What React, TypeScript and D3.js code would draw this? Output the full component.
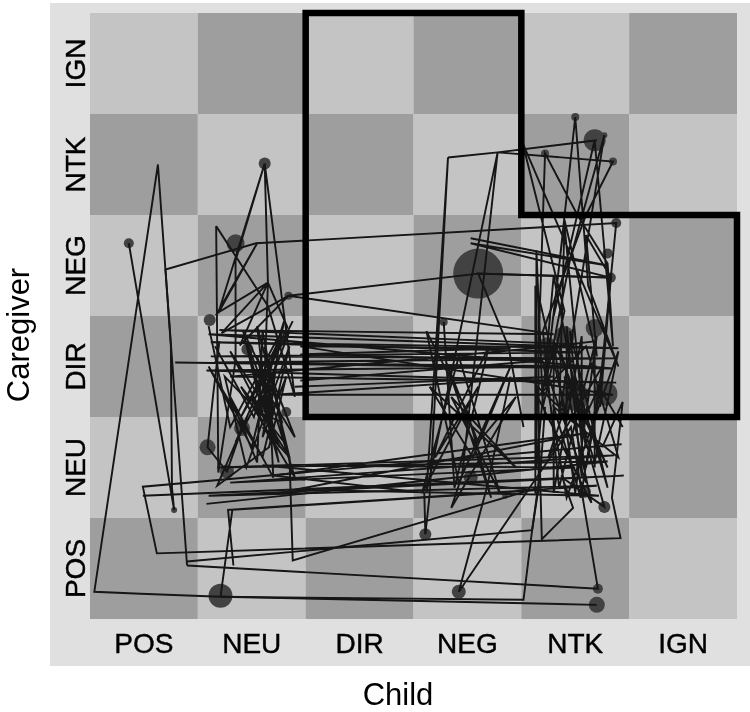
import { useRef, useEffect } from 'react';
import * as d3 from 'd3';

type Pt = [number, number];

const childStates = ['POS', 'NEU', 'DIR', 'NEG', 'NTK', 'IGN'];
const caregiverStates = ['POS', 'NEU', 'DIR', 'NEG', 'NTK', 'IGN'];

// grid units: [child, caregiver], 0-6 across the six states
const regionOutline: Pt[] = [[2, 6], [4, 6], [4, 4], [6, 4], [6, 2], [2, 2]];

const outerLeft: Pt[] = [
  [0.36, 3.72], [0.78, 1.08], [0.76, 1.3], [0.75, 2.7], [0.63, 4.5], [0.04, 0.27], [0.47, 0.25], [1.21, 0.22], [4.7, 0.14],
];
const outerBottom: Pt[] = [
  [1.21, 0.22], [4.02, 0.19], [4.1, 0.88], [4.18, 1.5], [4.22, 2.1],
];
const outerTop: Pt[] = [
  [0.9, 0.53], [0.7, 3.46], [1.54, 3.72], [4.88, 3.92], [4.72, 2.2], [4.6, 1.5],
];
const outerLow: Pt[] = [
  [0.9, 0.53], [4.71, 0.3], [4.46, 1.9], [3.42, 0.27], [3.68, 1.3], [3.9, 2.4],
];
const loopLow: Pt[] = [
  [4.93, 1.73], [0.49, 1.31], [0.62, 0.65], [4.92, 0.8], [4.84, 1.2], [4.94, 2.15], [4.75, 1.7],
];
const loopPos: Pt[] = [
  [0.9, 0.57], [4.1, 0.88], [4.16, 1.3], [1.88, 0.58], [1.85, 1.6], [1.6, 1.9],
];
const crossNeu: Pt[] = [
  [0.49, 1.22], [4.95, 1.42], [1.1, 1.22], [4.7, 1.32], [1.28, 1.08], [1.33, 0.53], [1.28, 1.08], [4.2, 1.28], [1.32, 1.08], [1.21, 0.22],
];
const crossNeu2: Pt[] = [
  [1.08, 1.14], [4.8, 1.56], [1.18, 1.5], [4.86, 1.62], [1.3, 1.35], [4.5, 1.5], [1.6, 1.52], [4.72, 1.22], [1.9, 1.28],
  [4.6, 1.84], [1.7, 1.42], [3.1, 1.25], [3.11, 0.84],
];
const crossDir: Pt[] = [
  [0.79, 2.54], [4.85, 2.48], [1.1, 2.82], [4.9, 2.68], [1.12, 2.74], [4.55, 2.64], [1.12, 2.6], [4.86, 2.58], [1.15, 2.54],
  [4.7, 2.5], [1.08, 2.46], [4.88, 2.34], [1.3, 2.4], [4.5, 2.72], [1.2, 2.86], [4.3, 2.82], [1.84, 3.2], [3.6, 3.42], [4.83, 3.38],
];
const crossDir2: Pt[] = [
  [1.9, 2.3], [4.3, 2.4], [1.7, 2.22], [4.85, 2.22], [1.95, 2.7], [3.9, 2.68], [1.95, 2.62], [4.2, 2.56], [1.95, 2.36],
];
const leftTop: Pt[] = [
  [1.17, 3.89], [1.19, 1.45], [1.35, 2.56], [1.35, 3.55], [1.62, 4.51], [1.19, 3.03], [1.55, 3.72], [1.18, 3.03], [1.65, 3.33],
  [1.22, 2.83], [1.84, 3.2], [1.39, 2.71], [1.65, 3.33], [1.83, 2.89], [1.62, 2.4], [1.65, 3.33], [1.62, 4.51], [1.79, 3.09],
  [1.9, 2.2], [1.65, 3.1], [1.17, 3.89],
];
const leftDense: Pt[] = [
  [1.1, 2.9], [1.3, 1.9], [1.75, 2.8], [1.5, 1.7], [1.1, 2.5], [1.6, 1.6], [1.85, 2.7], [1.45, 1.5], [1.25, 2.4], [1.7, 1.9],
  [1.55, 2.6], [1.9, 1.4], [1.4, 2.3], [1.8, 1.75], [1.6, 2.85], [1.55, 1.55], [1.3, 2.2], [1.7, 1.4], [1.65, 2.5], [1.85, 1.6],
  [1.5, 2.2], [1.68, 1.75], [1.6, 2.35], [1.75, 1.55], [1.45, 2.75], [1.7, 2.05], [1.62, 2.7], [1.78, 1.95], [1.55, 2.05],
  [1.72, 2.5], [1.6, 1.8], [1.82, 2.4], [1.66, 1.7], [1.18, 1.32], [1.41, 1.89], [1.27, 1.46], [1.09, 1.7], [1.14, 2.2], [1.2, 2.75],
];
const leftDense2: Pt[] = [
  [1.16, 2.7], [1.52, 2.0], [1.8, 2.95], [1.62, 1.95], [1.42, 2.85], [1.72, 2.2], [1.55, 2.9], [1.66, 1.9], [1.75, 2.75], [1.4, 2.0],
  [1.85, 2.85], [1.6, 2.15], [1.3, 2.65], [1.76, 1.7], [1.5, 2.5], [1.9, 1.8], [1.68, 2.4], [1.35, 1.75], [1.58, 2.3], [1.88, 2.95],
];
const midDense: Pt[] = [
  [3.28, 2.94], [3.38, 1.3], [3.7, 2.7], [3.2, 1.6], [3.6, 2.3], [3.08, 1.25], [3.42, 2.6], [3.8, 1.25], [3.35, 2.2], [3.95, 1.5],
  [3.15, 2.3], [3.55, 1.6], [3.9, 2.5], [3.42, 1.35], [3.12, 2.85], [3.5, 2.05], [3.72, 1.2], [3.3, 2.55], [3.6, 1.75], [3.95, 2.2],
  [3.35, 1.1], [3.45, 1.42], [3.78, 4.62], [3.12, 1.25], [3.32, 4.57], [3.15, 1.23], [3.11, 0.84],
];
const midTop: Pt[] = [
  [4.7, 4.74], [3.78, 4.62], [3.32, 4.57], [3.78, 4.62], [4.85, 4.53], [4.6, 4.0], [4.2, 2.85],
];
const midBig: Pt[] = [
  [3.53, 3.77], [4.8, 3.5], [3.53, 3.72], [4.83, 3.38], [3.6, 3.42], [3.88, 2.7], [4.02, 1.9],
];
const rightTop: Pt[] = [
  [4.22, 4.61], [4.16, 2.7], [4.22, 4.61], [4.52, 4.0], [4.8, 3.52], [4.85, 2.7], [4.68, 4.74], [4.3, 3.0], [4.5, 4.97], [4.62, 3.3],
  [4.9, 2.5], [4.01, 4.72], [4.4, 3.05], [4.2, 2.1], [4.14, 3.65], [4.14, 1.5], [4.3, 3.4], [4.6, 1.7], [4.4, 3.9], [4.35, 2.0],
  [4.77, 4.79], [4.45, 3.55], [4.22, 2.3], [4.4, 3.95], [4.7, 2.6], [4.6, 3.8], [4.83, 3.38], [4.73, 2.1],
];
const rightDense: Pt[] = [
  [4.2, 2.85], [4.35, 1.3], [4.7, 2.8], [4.5, 1.25], [4.3, 2.75], [4.8, 1.5], [4.4, 2.4], [4.65, 1.15], [4.15, 2.2], [4.6, 2.7],
  [4.9, 1.6], [4.3, 2.1], [4.55, 1.2], [4.75, 2.5], [4.25, 1.6], [4.5, 2.4], [4.8, 1.3], [4.45, 2.85], [4.6, 1.35], [4.2, 2.55],
  [4.42, 1.2], [4.9, 2.65], [4.68, 1.55], [4.35, 2.7], [4.77, 1.11], [4.38, 1.4], [4.48, 1.1], [4.19, 0.79], [4.17, 1.6],
  [4.15, 2.3], [4.55, 1.9], [4.72, 2.3], [4.94, 1.9],
];
const rightColumns: Pt[] = [
  [4.13, 3.3], [4.13, 1.25], [4.16, 1.25], [4.16, 3.2], [4.42, 2.0], [4.42, 2.9], [4.56, 1.4], [4.56, 2.8], [4.3, 1.25], [4.3, 2.7], [4.68, 2.75], [4.68, 1.5],
];

const nodeChild = [3.6, 1.21, 4.5, 4.68, 4.78, 1.35, 4.68, 4.4, 4.24, 1.09, 1.41, 1.27, 3.42, 3.11, 4.7, 4.71, 1.11, 1.62, 1.46, 3.53, 4.59, 4.77, 4.8, 4.83, 4.88, 0.36, 1.84, 3.28, 0.78, 3.85, 1.65, 1.82, 4.85, 4.5, 4.22, 4.77];
const nodeCaregiver = [3.42, 0.23, 2.2, 2.88, 2.23, 3.72, 4.74, 2.8, 2.69, 1.7, 1.89, 1.46, 0.27, 0.84, 0.14, 0.3, 2.96, 4.51, 2.67, 1.40, 1.26, 1.11, 3.62, 3.38, 3.92, 3.72, 3.2, 2.94, 1.08, 1.22, 2.1, 2.05, 4.53, 4.97, 4.61, 4.79];
const nodeSize = [25, 12, 14, 9, 12, 9, 11, 10, 10, 8, 8, 7, 7, 6, 8, 5, 6, 6, 6, 7, 6, 6, 5, 5, 5, 5, 4, 4, 3, 3, 7, 5, 4, 4, 4, 3];

const trajectories = [outerLeft, outerBottom, outerTop, outerLow, loopLow, loopPos, crossNeu, crossNeu2, crossDir, crossDir2, leftTop, leftDense, leftDense2, midDense, midTop, midBig, rightTop, rightDense, rightColumns];

const FONT = '"Liberation Sans", Arial, sans-serif';

export default function App() {
  const ref = useRef<SVGSVGElement>(null);

  useEffect(() => {
    const svg = d3.select(ref.current);
    svg.selectAll('*').remove();

    const left = 90, right = 737, top = 13, bottom = 619;

    svg.append('defs').append('filter').attr('id', 'soft')
      .append('feGaussianBlur').attr('stdDeviation', 0.55);

    const root = svg.append('g').attr('filter', 'url(#soft)');

    root.append('rect').attr('x', 50).attr('y', 3).attr('width', 700).attr('height', 663).attr('fill', '#e0e0e0');

    const bandX = d3.scaleBand().domain(childStates).range([left, right]);
    const bandY = d3.scaleBand().domain(caregiverStates).range([bottom, top]);
    const x = d3.scaleLinear().domain([0, 6]).range([left, right]);
    const y = d3.scaleLinear().domain([0, 6]).range([bottom, top]);

    // Checkerboard
    caregiverStates.forEach((cg, r) => {
      childStates.forEach((ch, c) => {
        root.append('rect')
          .attr('x', bandX(ch)!).attr('y', bandY(cg)!)
          .attr('width', bandX.bandwidth()).attr('height', bandY.bandwidth())
          .attr('fill', (r + c) % 2 === 0 ? '#9e9e9e' : '#c4c4c4');
      });
    });

    // Nodes under the lines
    root.append('g').selectAll('circle').data(nodeSize).enter().append('circle')
      .attr('cx', (_, i) => x(nodeChild[i]))
      .attr('cy', (_, i) => y(nodeCaregiver[i]))
      .attr('r', d => d)
      .attr('fill', '#424242');

    // Trajectories
    const line = d3.line<Pt>().x(d => x(d[0])).y(d => y(d[1]));
    root.append('g').selectAll('path').data(trajectories).enter().append('path')
      .attr('d', d => line(d))
      .attr('fill', 'none').attr('stroke', '#141414').attr('stroke-width', 1.9);

    // Highlighted region
    root.append('path')
      .attr('d', d3.line<Pt>().x(d => x(d[0])).y(d => y(d[1])).curve(d3.curveLinearClosed)(regionOutline))
      .attr('fill', 'none').attr('stroke', '#000').attr('stroke-width', 6.5);

    // Axes
    root.append('g').attr('transform', `translate(0,${bottom})`)
      .call(d3.axisBottom(bandX).tickSize(0).tickPadding(14))
      .call(s => {
        s.select('.domain').remove();
        s.selectAll('text').attr('fill', '#000').attr('stroke', '#000').attr('stroke-width', 0.4)
          .style('font-family', FONT).style('font-size', '28px');
      });

    caregiverStates.forEach(cg => {
      root.append('text')
        .attr('transform', `translate(85,${bandY(cg)! + bandY.bandwidth() / 2}) rotate(-90)`)
        .attr('text-anchor', 'middle').attr('stroke', '#000').attr('stroke-width', 0.4)
        .style('font-family', FONT).style('font-size', '28px')
        .text(cg);
    });

    root.append('text')
      .attr('x', 398).attr('y', 705).attr('text-anchor', 'middle')
      .style('font-family', FONT).style('font-size', '31px')
      .text('Child');

    root.append('text')
      .attr('transform', 'translate(29,335) rotate(-90)').attr('text-anchor', 'middle')
      .style('font-family', FONT).style('font-size', '31px')
      .text('Caregiver');
  }, []);

  return <svg ref={ref} width={750} height={712} style={{ position: 'absolute', left: 0, top: 0, display: 'block' }} />;
}
